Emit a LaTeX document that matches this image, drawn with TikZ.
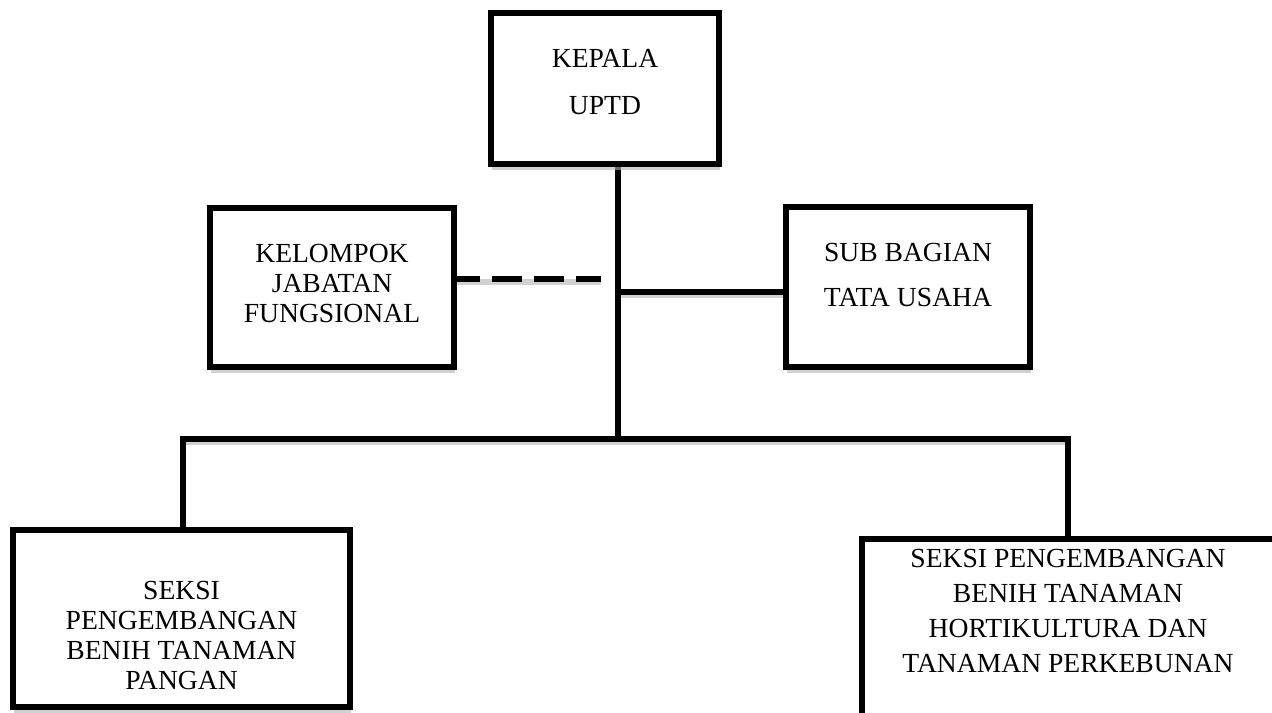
\documentclass[tikz,border=0pt]{standalone}
\usepackage{fontspec}
\setmainfont{Liberation Serif}
\usepackage{tikz}
\usetikzlibrary{positioning,calc,shadows,backgrounds}

\begin{document}
\begin{tikzpicture}[x=0.5pt,y=-0.5pt,
					unitbox/.style={draw, line width=3pt, fill=white, inner sep=0pt,
						drop shadow={shadow xshift=0.5pt, shadow yshift=-3pt, fill=black!30, opacity=0.6}},
					lbl/.style={align=center, inner sep=0pt},
					conn/.style={line width=3pt,
						preaction={draw, black!18, line width=3pt, transform canvas={yshift=-1.5pt}}}]
				\useasboundingbox (0,0) rectangle (1272,712);
				% boxes
				\node[unitbox, minimum width=114pt, minimum height=75.5pt] (kepala) at (605,88.5) {};
				\node[lbl, font=\fontsize{13.8}{23.5}\selectfont] (kepalatxt) at (605,82.5) {KEPALA\\UPTD};
				\node[unitbox, minimum width=122pt, minimum height=79.5pt] (kelompok) at (332,287.5) {};
				\node[lbl, font=\fontsize{13.8}{15}\selectfont] (kelompoktxt) at (332,283.5) {KELOMPOK\\JABATAN\\FUNGSIONAL};
				\node[unitbox, minimum width=122pt, minimum height=80pt] (subbag) at (908,287) {};
				\node[lbl, font=\fontsize{13.8}{22.5}\selectfont] (subbagtxt) at (908,275) {SUB BAGIAN\\TATA USAHA};
				\node[unitbox, minimum width=168.5pt, minimum height=88.5pt] (pangan) at (181.5,618.5) {};
				\node[lbl, font=\fontsize{13.8}{15}\selectfont] (pangantxt) at (181.5,635) {SEKSI\\PENGEMBANGAN\\BENIH TANAMAN\\PANGAN};
				\node[unitbox, minimum width=209pt, minimum height=110pt, anchor=north west] (horti) at (859,536) {};
				\node[lbl, font=\fontsize{13.8}{17.5}\selectfont] (hortitxt) at (1068,611) {SEKSI PENGEMBANGAN\\BENIH TANAMAN\\HORTIKULTURA DAN\\TANAMAN PERKEBUNAN};
				% lines
				\coordinate (bus) at (618,439);
				\coordinate (busl) at (183,439);
				\coordinate (busr) at (1068,439);
				\coordinate (sbj) at (618,292);
				\coordinate (kjf) at (601,279);
				\begin{scope}[on background layer]
					\draw[conn] (sbj) -- (sbj -| subbag.west);
					\draw[conn, dash pattern=on 15pt off 6pt, dash phase=3.5pt] (kelompok.east |- kjf) -- (kjf);
					\draw[conn] (bus |- kepala.south) -- (bus);
					\draw[conn] (busl |- pangan.north) -- (busl) -- (busr) -- (busr |- horti.north);
				\end{scope}
			\end{tikzpicture}
\end{document}
